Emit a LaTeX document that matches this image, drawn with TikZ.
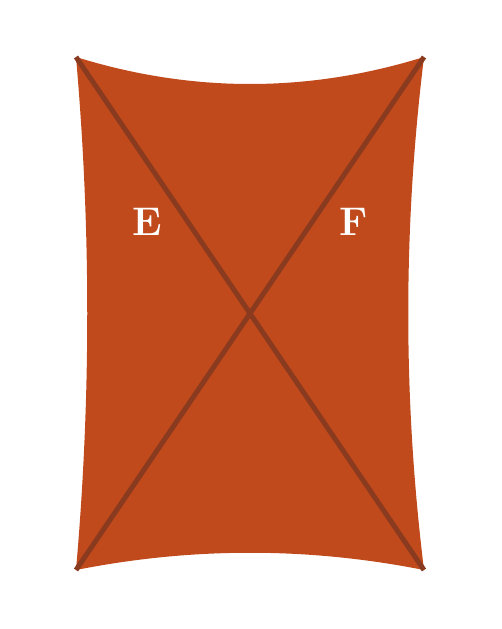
\documentclass[tikz,border=0pt]{standalone}
\usepackage{tikz}

\definecolor{sailfill}{HTML}{C04A1C}
\definecolor{sailline}{HTML}{8A3A1E}

\begin{document}
\begin{tikzpicture}[x=1pt, y=-1pt, line width=5pt]
            %%%%%%%%
            % frame
            %%%%%%%%
            \useasboundingbox (0, 0) rectangle (501, 629);

            % corners
            \coordinate (tl) at (76, 57);
            \coordinate (tr) at (424, 57);
            \coordinate (bl) at (76, 570);
            \coordinate (br) at (424, 570);

            %%%%%%%%
            % sail
            %%%%%%%%

            % draw curved sail
            \fill[sailfill] (tl) .. controls (192, 93) and (308, 93) .. (tr) .. controls (403, 228) and (403, 399) .. (br) .. controls (308, 547) and (192, 547) .. (bl) .. controls (91, 399) and (91, 228) .. (tl);

            % draw cross
            \draw[color=sailline] (tl) -- (br);
            \draw[color=sailline] (tr) -- (bl);

            % labels
            \node[text=white, font=\fontsize{40}{40}\selectfont\bfseries] (e) at (147, 222) {E};
            \node[text=white, font=\fontsize{40}{40}\selectfont\bfseries] (f) at (354, 222) {F};
        \end{tikzpicture}
\end{document}
